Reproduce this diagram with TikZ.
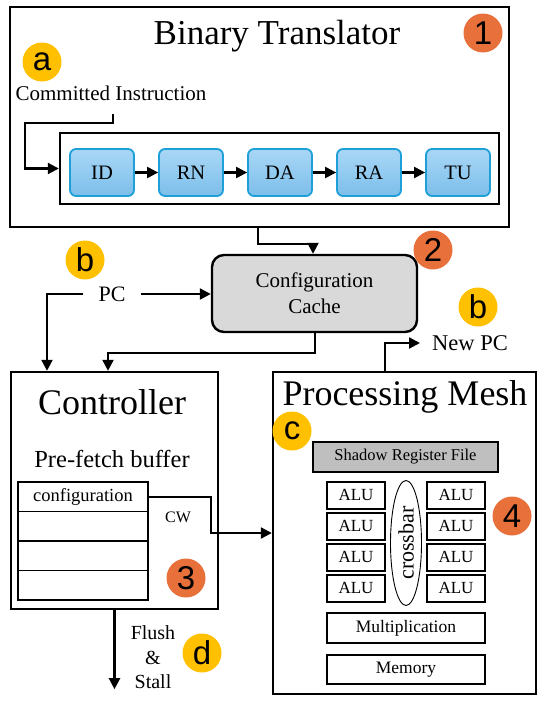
\documentclass[tikz,border=0pt]{standalone}
\usepackage{fontspec}
\setmainfont{Liberation Serif}
\newfontfamily\circfont{Liberation Sans}
\usetikzlibrary{arrows.meta,shapes.geometric}
\definecolor{orng}{HTML}{E8703A}
\definecolor{yell}{HTML}{FFC000}
\definecolor{bluetop}{HTML}{A9D7F6}
\definecolor{bluebot}{HTML}{7CBEEA}
\definecolor{blueedge}{HTML}{1E9FD8}
\definecolor{cachegray}{HTML}{D9D9D9}
\definecolor{srfgray}{HTML}{BFBFBF}
\tikzset{
  bigbox/.style={draw, line width=2.4pt, minimum width=#1, inner sep=0pt},
  stagebox/.style={draw=blueedge, line width=1.8pt, rounded corners=6pt, top color=bluetop, bottom color=bluebot,
     minimum width=64pt, minimum height=47pt, inner sep=0pt, font=\fontsize{20.5}{22}\selectfont},
  cell/.style={draw, line width=1.6pt, minimum width=130pt, minimum height=29.5pt, inner sep=0pt, font=\fontsize{18.5}{20}\selectfont},
  alubox/.style={draw, line width=2pt, minimum width=58pt, minimum height=27pt, inner sep=0pt, font=\fontsize{17}{18}\selectfont},
  widebox/.style={draw, line width=2pt, minimum width=158pt, inner sep=0pt, font=\fontsize{17.5}{18}\selectfont},
  arr/.style={line width=2.2pt, -{Triangle[length=11pt,width=11pt]}},
  ocirc/.style={circle, fill=orng, minimum size=39pt, inner sep=0pt, font=\circfont\fontsize{33}{34}\selectfont},
  ycirc/.style={circle, fill=yell, minimum size=39pt, inner sep=0pt, font=\circfont\fontsize{33}{34}\selectfont},
  txt/.style={inner sep=0pt, font=\fontsize{#1}{#1}\selectfont},
}
\begin{document}
\begin{tikzpicture}[x=1pt,y=-1pt]
\useasboundingbox (0,0) rectangle (550,704);

% Binary Translator
\node[bigbox=499pt, minimum height=220pt] (bt) at (259.5,117) {};
\node[txt=35] (bttitle) at (277,36) {Binary Translator};
\node[ocirc] (n1) at (483,33) {1};
\node[ycirc] (na) at (42,62) {a};
\node[txt=21] (ci) at (111,93) {Committed Instruction};
\coordinate (cistart) at (113,114);
\coordinate (cicorner) at (25,123);
\node[draw, line width=2.4pt, minimum width=439pt, minimum height=71pt, inner sep=0pt] (inner) at (279.5,168.5) {};
\node[stagebox] (id) at (102,172.5) {ID};
\node[stagebox] (rn) at (191,172.5) {RN};
\node[stagebox] (da) at (280,172.5) {DA};
\node[stagebox] (ra) at (369,172.5) {RA};
\node[stagebox] (tu) at (458,172.5) {TU};
\draw[arr] (cistart) |- (cicorner) |- (inner.west);
\draw[arr] (id) -- (rn);
\draw[arr] (rn) -- (da);
\draw[arr] (da) -- (ra);
\draw[arr] (ra) -- (tu);

% Configuration cache
\node[draw, line width=2.4pt, rounded corners=12pt, fill=cachegray, minimum width=205pt, minimum height=77pt,
      inner sep=0pt, align=center, font=\fontsize{21}{26}\selectfont] (cache) at (314.5,293.5) {Configuration\\Cache};
\node[ocirc] (n2) at (433,250) {2};
\draw[arr] ([xshift=-1.5pt]bt.south) -- ++(0,16) -| ([xshift=-1.5pt]cache.north);

% PC
\node[ycirc] (nb1) at (85,260) {b};
\node[txt=22, inner xsep=15pt] (pc) at (112,294) {PC};
\draw[arr] (pc.east) -- (cache.west |- pc.east);

% Controller
\node[bigbox=207pt, minimum height=237pt] (ctrl) at (114.5,490.5) {};
\node[txt=36] (ctitle) at (112,402) {Controller};
\node[txt=24.5] (pfb) at (112,459) {Pre-fetch buffer};
\node[cell] (row1) at (83,496.75) {configuration};
\node[cell] (row2) at (83,526.25) {};
\node[cell] (row3) at (83,555.75) {};
\node[cell] (row4) at (83,585.25) {};
\node[txt=16] (cw) at (178,517) {CW};
\node[ocirc] (n3) at (186,578) {3};
\coordinate (pcdrop) at (47,0);
\coordinate (cachedrop) at (108,0);
\draw[arr] (pc.west) -| (ctrl.north -| pcdrop);
\draw[arr] ([xshift=0.5pt]cache.south) -- ++(0,20) -| (ctrl.north -| cachedrop);

% Flush & Stall
\draw[arr] (ctrl.south) -- ++(0,79);
\node[txt=20, align=center, font=\fontsize{20}{24.5}\selectfont] (flush) at (153,657.5) {Flush\\\&\\Stall};
\node[ycirc] (nd) at (202,653) {d};

% Processing Mesh
\node[bigbox=263pt, minimum height=322pt] (pm) at (404.5,533) {};
\node[txt=36] (pmtitle) at (405,397) {Processing Mesh};
\node[ycirc] (nc) at (292,431) {c};
\node[draw, line width=2pt, fill=srfgray, minimum width=185pt, minimum height=30pt, inner sep=0pt,
      font=\fontsize{16.5}{18}\selectfont] (srf) at (405.5,457) {Shadow Register File};
\node[alubox] (al1) at (356,495) {ALU};
\node[alubox] (al2) at (356,526) {ALU};
\node[alubox] (al3) at (356,557) {ALU};
\node[alubox] (al4) at (356,588) {ALU};
\node[alubox] (ar1) at (456,495) {ALU};
\node[alubox] (ar2) at (456,526) {ALU};
\node[alubox] (ar3) at (456,557) {ALU};
\node[alubox] (ar4) at (456,588) {ALU};
\node[draw, ellipse, line width=0.9pt, minimum width=31pt, minimum height=125pt, inner sep=0pt] (xbar) at (406,543) {};
\node[txt=22, rotate=90] (xbartext) at (406,543) {crossbar};
\node[widebox, minimum height=30pt] (mult) at (406,628) {Multiplication};
\node[widebox, minimum height=29pt] (mem) at (406,669.5) {Memory};
\node[ocirc] (n4) at (512,516) {4};

% New PC
\node[ycirc] (nb2) at (478,307) {b};
\node[txt=22.5, anchor=west, inner xsep=12pt] (newpc) at (420,343) {New PC};
\draw[arr] ([xshift=-19.5pt]pm.north) |- (newpc.west);

% CW
\draw[arr] (row1.east) -- ++(62,0) |- (pm.west);
\end{tikzpicture}
\end{document}
